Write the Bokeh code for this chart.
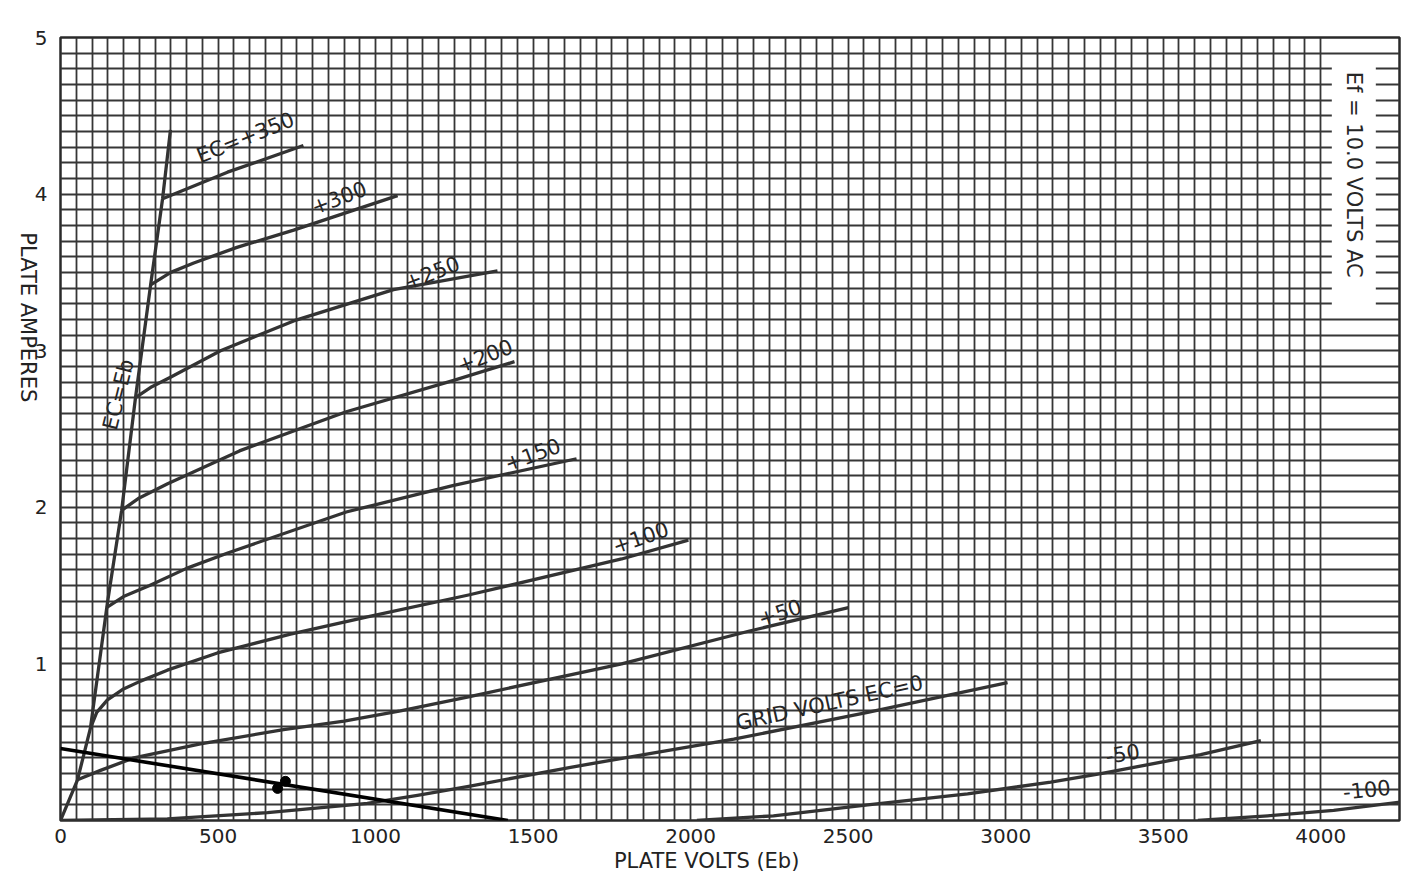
import math
from bokeh.plotting import figure
from bokeh.models import Range1d, FixedTicker, SingleIntervalTicker, Label
from bokeh.core.properties import value
from bokeh.embed import file_html
from bokeh.resources import INLINE

FONT = "DejaVu Sans"

# ---------------- data (plate volts, plate amperes) ----------------
x_ticks = [0, 500, 1000, 1500, 2000, 2500, 3000, 3500, 4000]
y_ticks = [1, 2, 3, 4, 5]

ec_eb_v = [0, 54, 95, 149, 194, 238, 286, 324, 349]
ec_eb_a = [0, 0.26, 0.59, 1.39, 1.98, 2.70, 3.42, 3.97, 4.41]

p350_v = [324, 530, 771]
p350_a = [3.97, 4.14, 4.31]

p300_v = [286, 350, 423, 560, 740, 1070]
p300_a = [3.42, 3.50, 3.56, 3.66, 3.77, 3.99]

p250_v = [238, 290, 349, 508, 740, 1057, 1387]
p250_a = [2.70, 2.77, 2.83, 3.00, 3.19, 3.39, 3.51]

p200_v = [194, 250, 340, 568, 907, 1248, 1441]
p200_a = [1.98, 2.06, 2.15, 2.36, 2.61, 2.81, 2.93]

p150_v = [146, 200, 283, 400, 533, 907, 1248, 1638]
p150_a = [1.36, 1.43, 1.50, 1.61, 1.71, 1.97, 2.14, 2.31]

p100_v = [95, 115, 149, 200, 254, 339, 498, 730, 974, 1295, 1781, 1993]
p100_a = [0.59, 0.69, 0.77, 0.84, 0.89, 0.96, 1.07, 1.19, 1.30, 1.44, 1.67, 1.79]

p50_v = [54, 127, 233, 444, 708, 900, 1079, 1295, 1781, 2187, 2501]
p50_a = [0.26, 0.32, 0.40, 0.49, 0.58, 0.635, 0.70, 0.79, 1.00, 1.21, 1.36]

g0_v = [0, 339, 657, 974, 1133, 1300, 1619, 2137, 2562, 3006]
g0_a = [0, 0.01, 0.05, 0.11, 0.16, 0.22, 0.34, 0.52, 0.69, 0.88]

m50_v = [2020, 2263, 2562, 2879, 3143, 3302, 3619, 3810]
m50_a = [0.0, 0.03, 0.10, 0.17, 0.245, 0.30, 0.42, 0.51]

m100_v = [3610, 3832, 4041, 4263]
m100_a = [0.0, 0.03, 0.065, 0.12]

load_v = [0, 1420]
load_a = [0.46, 0.0]

op_v = [689, 714]
op_a = [0.205, 0.25]

curve_labels = ["EC=+350", "+300", "+250", "+200", "+150", "+100", "+50",
                "GRID VOLTS EC=0", "-50", "-100", "EC=Eb"]
label_v = [587, 883, 1178, 1346, 1498, 1841, 2283, 2441, 3371, 4146, 184]
label_a = [4.36, 3.98, 3.50, 2.97, 2.34, 1.81, 1.33, 0.75, 0.43, 0.20, 2.72]
label_deg = [22, 21, 21, 21, 20, 19, 18, 12.5, 10, 6, 76]

# ---------------- figure ----------------
p = figure(frame_width=1339, frame_height=783, output_backend="svg",
           toolbar_location=None,
           x_range=Range1d(0, 4250), y_range=Range1d(0, 5.0),
           min_border_left=59, min_border_top=37, min_border_right=6,
           min_border_bottom=50, background_fill_color="white",
           border_fill_color="white")
p.outline_line_color = "#2a2a2a"
p.outline_line_width = 2.5

p.xgrid.ticker = SingleIntervalTicker(interval=50, num_minor_ticks=0)
p.ygrid.ticker = SingleIntervalTicker(interval=0.1, num_minor_ticks=0)
for g in (p.xgrid, p.ygrid):
    g.grid_line_color = "#363636"
    g.grid_line_width = 1.8
    g.grid_line_alpha = 1.0

p.xaxis.ticker = FixedTicker(ticks=x_ticks)
p.yaxis.ticker = FixedTicker(ticks=y_ticks)
for ax in (p.xaxis, p.yaxis):
    ax.axis_line_color = None
    ax.major_tick_line_color = None
    ax.minor_tick_line_color = None
    ax.major_label_text_font = FONT
    ax.major_label_text_font_size = "20px"
    ax.major_label_text_color = "#222222"
    ax.axis_label_text_font = FONT
    ax.axis_label_text_font_size = "21px"
    ax.axis_label_text_font_style = "normal"
    ax.axis_label_text_color = "#222222"
p.xaxis.major_label_standoff = 2
p.yaxis.major_label_standoff = 7

# x axis bounds only steer where the axis title is centred
p.xaxis.bounds = (0, 4030)

p.xaxis.axis_label = "PLATE     VOLTS    (Eb)"
p.xaxis.axis_label_standoff = 3
p.yaxis.axis_label = "PLATE     AMPERES"
p.yaxis.axis_label_standoff = 4
yax = p.yaxis[0]
try:
    yax.axis_label_orientation = -math.pi / 2
except Exception:
    pass

curve_color = "#333333"
for xs, ys in [(ec_eb_v, ec_eb_a), (p350_v, p350_a), (p300_v, p300_a),
               (p250_v, p250_a), (p200_v, p200_a), (p150_v, p150_a),
               (p100_v, p100_a), (p50_v, p50_a), (g0_v, g0_a),
               (m50_v, m50_a), (m100_v, m100_a)]:
    p.line(xs, ys, line_color=curve_color, line_width=3.3, line_join="round")

p.line(load_v, load_a, line_color="black", line_width=3.6)
p.scatter(op_v, op_a, size=10, color="black")

p.text(x=label_v, y=label_a, text=curve_labels,
       angle=[math.radians(d) for d in label_deg],
       text_font=value(FONT), text_font_size="21px", text_color="#262626",
       text_align="center", text_baseline="middle")

# Filament note on white strip
p.add_layout(Label(x=4105, y=4.06, text="Ef = 10.0  VOLTS   AC", angle=-math.pi / 2,
                   text_font=FONT, text_font_size="21px", text_color="#262626",
                   text_align="center", text_baseline="middle",
                   background_fill_color="white", padding=10))

open("out.html", "w").write(file_html(p, INLINE))
